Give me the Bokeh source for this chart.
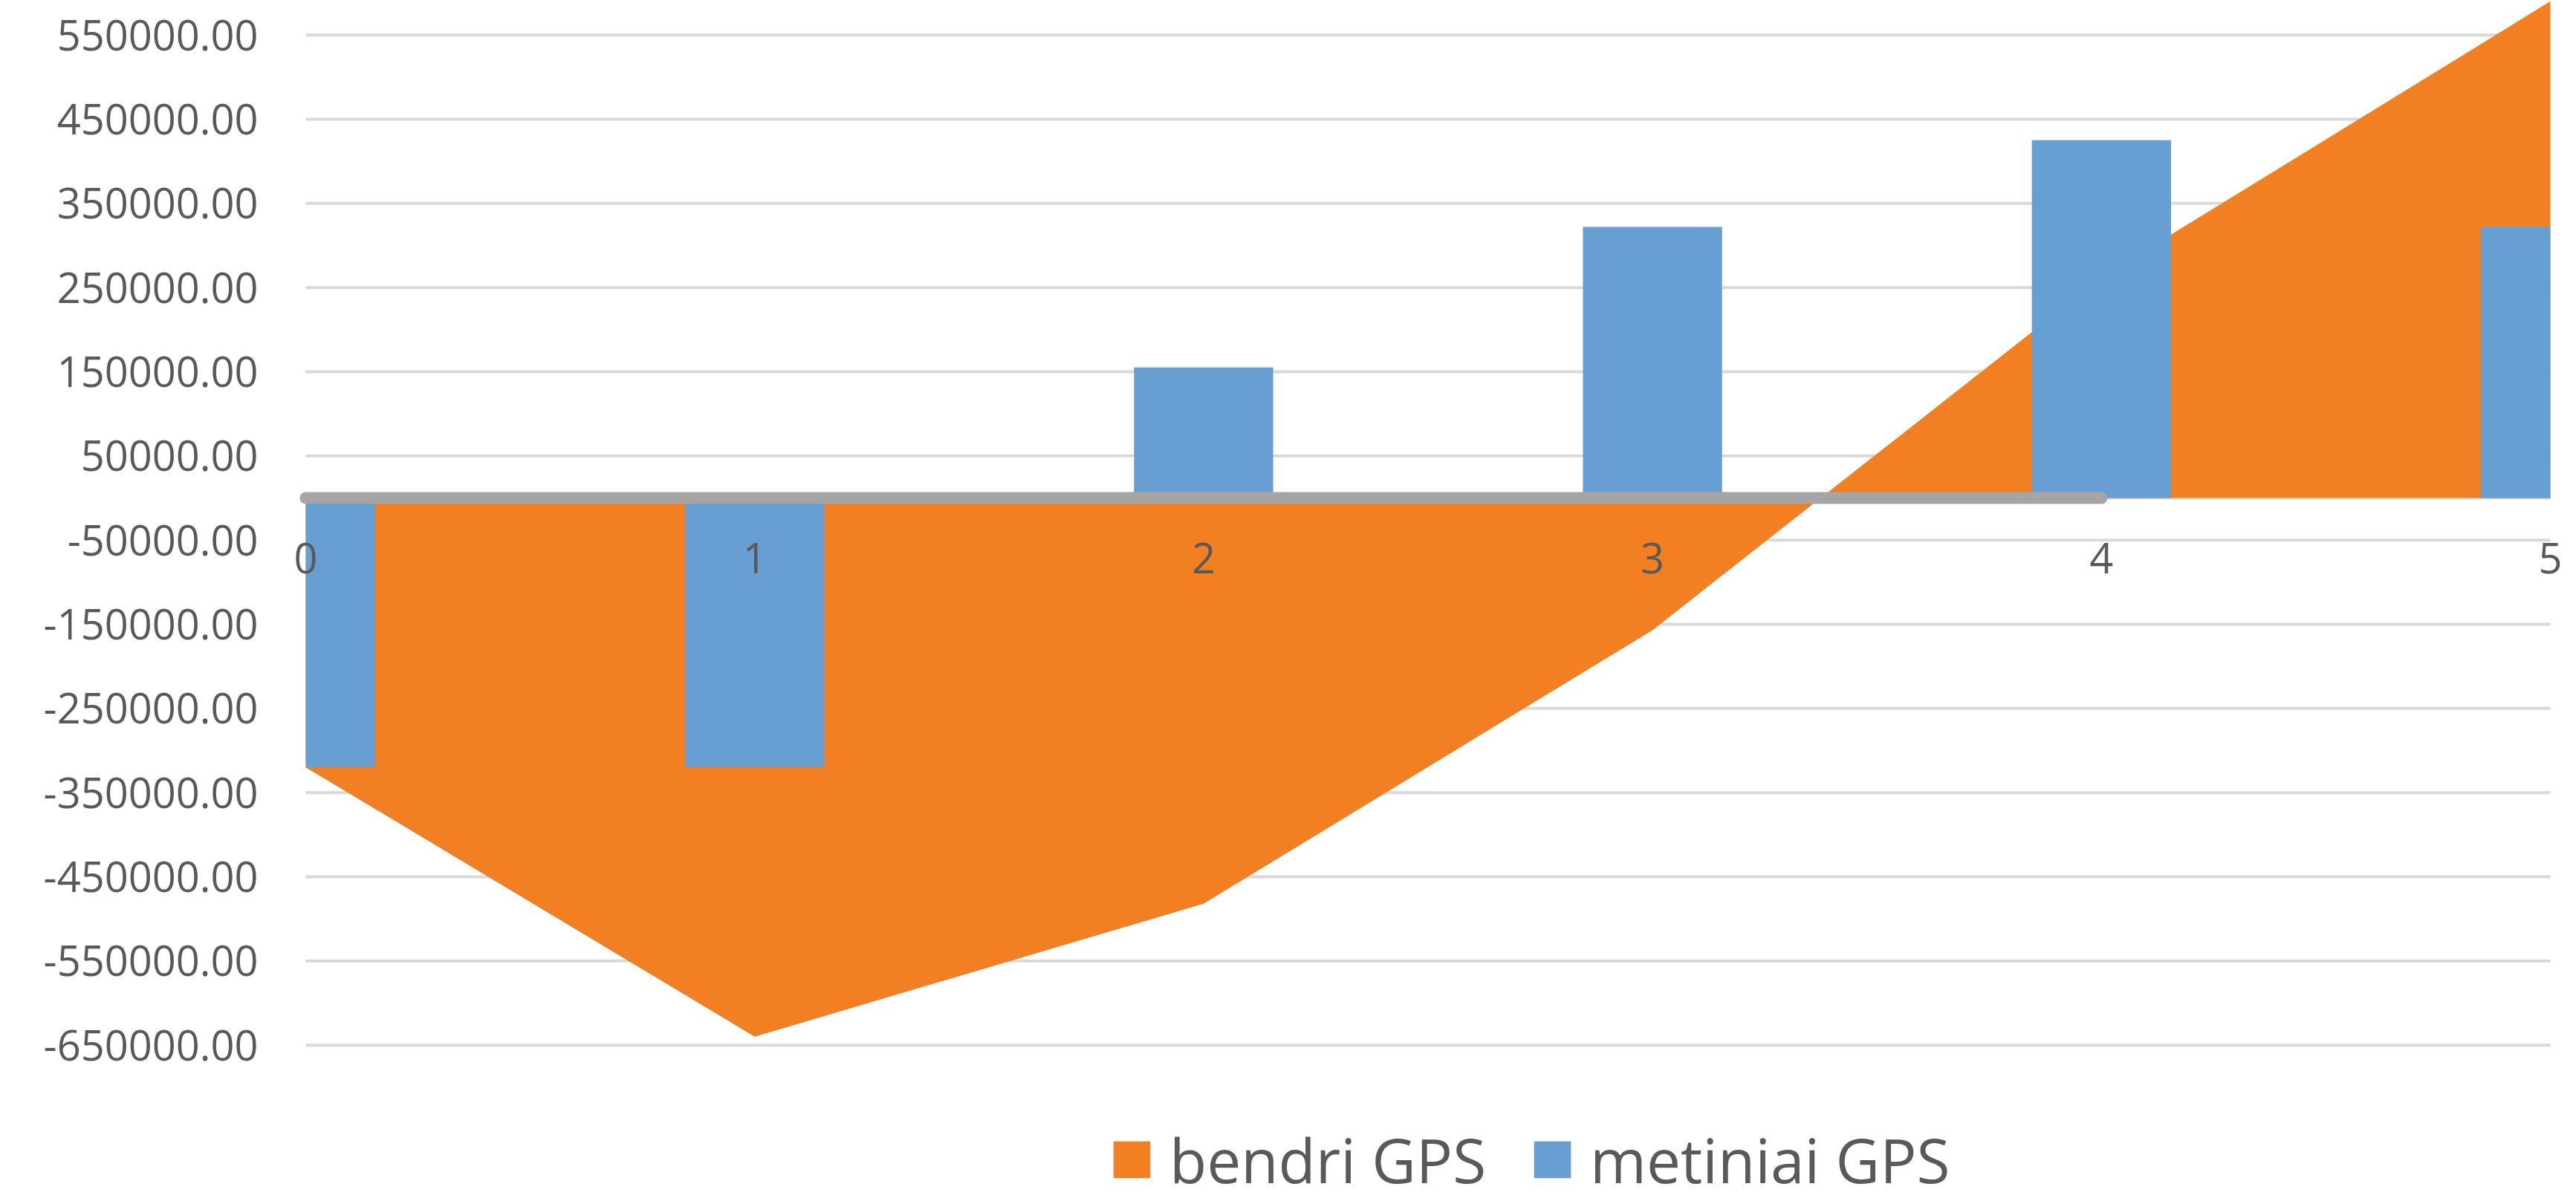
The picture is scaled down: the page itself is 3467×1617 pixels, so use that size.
from bokeh.plotting import figure
from bokeh.models import (FixedTicker, NumeralTickFormatter, Range1d, Legend, LegendItem)
from bokeh.embed import file_html
from bokeh.resources import INLINE

# ---- data ----
categories = [0, 1, 2, 3, 4, 5]
x_tick_labels = ["0", "1", "2", "3", "4", "5"]
bendri_gps = [-320000, -640000, -482000, -157000, 262000, 590000]
metiniai_gps = [-320000, -320000, 155000, 322000, 425000, 322000]
gray_x = [0, 1, 2, 3, 4]
gray_y = [0, 0, 0, 0, 0]
y_ticks = list(range(-650000, 550001, 100000))

ORANGE = "#F27F22"
BLUE = "#689FD3"
GRAY = "#A5A5A5"
GRID = "#D9D9D9"
TEXT = "#595959"
FONT = "Open Sans"
BAR_W = 0.31

x_lo, x_hi = categories[0], categories[-1]
unit_px = 604.2
p = figure(width=3467, height=1617, output_backend="svg", toolbar_location=None,
           x_range=Range1d(x_lo - 30 / unit_px, x_hi + 35 / unit_px),
           y_range=Range1d(-835600, 591200),
           x_axis_location="below", min_border_left=381, min_border_right=0,
           min_border_top=0, min_border_bottom=0)
p.outline_line_color = None
p.background_fill_color = "white"
p.border_fill_color = "white"
p.xgrid.visible = False
p.ygrid.visible = False

# gridlines spanning exactly the category extent
grid_vals = y_ticks + [0]
p.segment(x0=[x_lo] * len(grid_vals), x1=[x_hi] * len(grid_vals),
          y0=grid_vals, y1=grid_vals, line_color=GRID, line_width=4)

yaxis = p.yaxis[0]
yaxis.ticker = FixedTicker(ticks=y_ticks)
yaxis.formatter = NumeralTickFormatter(format="0.00")
yaxis.axis_line_color = None
yaxis.major_tick_line_color = None
yaxis.minor_tick_line_color = None
yaxis.major_tick_in = 0
yaxis.major_tick_out = 0
yaxis.major_label_standoff = 34
yaxis.major_label_text_font = FONT
yaxis.major_label_text_font_size = "56px"
yaxis.major_label_text_color = TEXT

xaxis = p.xaxis[0]
xaxis.fixed_location = 0
xaxis.ticker = FixedTicker(ticks=categories)
xaxis.major_label_overrides = {c: t for c, t in zip(categories, x_tick_labels)}
xaxis.axis_line_color = None
xaxis.major_tick_line_color = None
xaxis.minor_tick_line_color = None
xaxis.major_tick_in = 0
xaxis.major_tick_out = 0
xaxis.major_label_standoff = 60
xaxis.major_label_text_font = FONT
xaxis.major_label_text_font_size = "56px"
xaxis.major_label_text_color = TEXT

r_area = p.varea(x=categories, y1=0, y2=bendri_gps, fill_color=ORANGE)

# bars, cut at the ends of the category axis like the original
bar_left = [max(c - BAR_W / 2, x_lo) for c in categories]
bar_right = [min(c + BAR_W / 2, x_hi) for c in categories]
bar_top = [max(v, 0) for v in metiniai_gps]
bar_bottom = [min(v, 0) for v in metiniai_gps]
r_bar = p.quad(left=bar_left, right=bar_right, top=bar_top, bottom=bar_bottom,
               fill_color=BLUE, line_color=None)

p.line(x=gray_x, y=gray_y, line_color=GRAY, line_width=16, line_cap="round")

legend = Legend(items=[LegendItem(label="bendri GPS", renderers=[r_area]),
                       LegendItem(label="metiniai GPS", renderers=[r_bar])],
                orientation="horizontal", location=(1111, 0),
                glyph_width=62, glyph_height=62, label_standoff=20, spacing=58,
                padding=0, margin=0, border_line_color=None, background_fill_alpha=0,
                label_text_font=FONT, label_text_font_size="82px",
                label_text_line_height=1.0,
                label_text_color=TEXT)
p.add_layout(legend)

open("out.html", "w").write(file_html(p, INLINE))
